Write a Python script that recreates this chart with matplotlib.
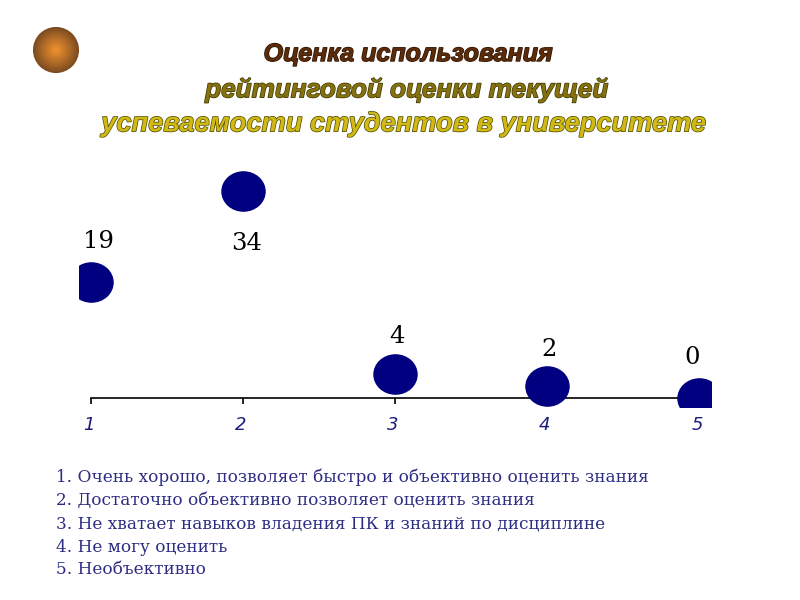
# -*- coding: utf-8 -*-
import numpy as np
import matplotlib
matplotlib.use("Agg")
import matplotlib.pyplot as plt
import matplotlib.patheffects as pe
from matplotlib import font_manager
from matplotlib.patches import Circle
from matplotlib.path import Path
from matplotlib.transforms import Affine2D, ScaledTranslation
from matplotlib.colors import LinearSegmentedColormap

# data
categories = [1, 2, 3, 4, 5]
values = [19, 34, 4, 2, 0]
title_lines = ["Оценка использования",
               "рейтинговой оценки текущей",
               "успеваемости студентов в университете"]
legend_lines = ["1. Очень хорошо, позволяет быстро и объективно оценить знания",
                "2. Достаточно объективно позволяет оценить знания",
                "3. Не хватает навыков владения ПК и знаний по дисциплине",
                "4. Не могу оценить",
                "5. Необъективно"]

W, H = 800, 600
fig = plt.figure(figsize=(W / 100, H / 100), dpi=100, facecolor="white")

# the chart, placed by hand to sit where the slide has it
ax = fig.add_axes([79 / W, (H - 407) / H, 632 / W, 237 / H])
ax.set_xlim(0.924, 5.079)
ax.set_ylim(-9 / 6.09, 228 / 6.09)
ax.patch.set_alpha(0)

# slightly wide ellipse marker
ellipse = Path.unit_circle().transformed(Affine2D().scale(1.0, 0.91))
ax.plot(categories, values, linestyle="none", marker=ellipse, markersize=31,
        markerfacecolor="#000080", markeredgecolor="#000080", zorder=3)

for s in ["top", "left", "right"]:
    ax.spines[s].set_visible(False)
ax.spines["bottom"].set_position(("data", 0))
ax.spines["bottom"].set_bounds(1, 5)
ax.spines["bottom"].set_linewidth(1.2)
ax.spines["bottom"].set_color("black")
ax.set_yticks([])
ax.set_xticks(categories)
ax.tick_params(axis="x", length=4, width=1.2, pad=9)
for lab in ax.get_xticklabels():
    lab.set_fontsize(13)
    lab.set_fontstyle("oblique")
    lab.set_color("#1c1c7c")
    lab.set_transform(lab.get_transform()
                      + ScaledTranslation(-2 / 100, 0, fig.dpi_scale_trans))

# value labels, offsets in pixels from the marker
label_offsets = [(8, 41), (4, -53), (2, 37), (2, 36), (-7, 41)]
for c, v, off in zip(categories, values, label_offsets):
    ax.annotate(str(v), (c, v), xytext=(off[0] * 0.72, off[1] * 0.72),
                textcoords="offset points", ha="center", va="center",
                family="DejaVu Serif", fontsize=17.5, color="black",
                annotation_clip=False, zorder=4)

# wordart style title, narrow face if there is one
installed = {f.name for f in font_manager.fontManager.ttflist}
if "Liberation Sans Narrow" in installed:
    title_font = "Liberation Sans Narrow"
    title_size = [22, 23, 24]
else:
    title_font = "Liberation Sans"
    title_size = [18, 18.8, 19.6]
title_y = [54, 90, 124]
title_x = [408, 407, 404]
title_color = ["#5c2c0a", "#86700f", "#d2b814"]
title_edge = ["#2a1200", "#3c3a00", "#4a4a00"]
for t, x, y, fs, col, ec in zip(title_lines, title_x, title_y, title_size,
                                title_color, title_edge):
    fig.text(x / W, 1 - y / H, t, ha="center", va="center", family=title_font,
             fontsize=fs, fontweight="bold", fontstyle="italic", color=col,
             path_effects=[pe.withStroke(linewidth=1.0, foreground=ec)])

# bullet in the corner
orb = fig.add_axes([32 / W, (H - 74) / H, 48 / W, 48 / H])
orb.axis("off")
yy, xx = np.mgrid[-1:1:120j, -1:1:120j]
orb_cmap = LinearSegmentedColormap.from_list("orb", ["#f0922e", "#b87028", "#7a4a20"])
im = orb.imshow(np.hypot(xx, yy), cmap=orb_cmap, vmin=0, vmax=0.96, extent=(-1, 1, -1, 1))
im.set_clip_path(Circle((0, 0), 0.96, transform=orb.transData))

# legend lines
legend_y = [477, 500, 524, 547, 570]
for t, y in zip(legend_lines, legend_y):
    fig.text(56 / W, 1 - y / H, t, ha="left", va="center", family="DejaVu Serif",
             fontsize=12.2, color="#2c2c84")

fig.savefig("out.png", dpi=100)
